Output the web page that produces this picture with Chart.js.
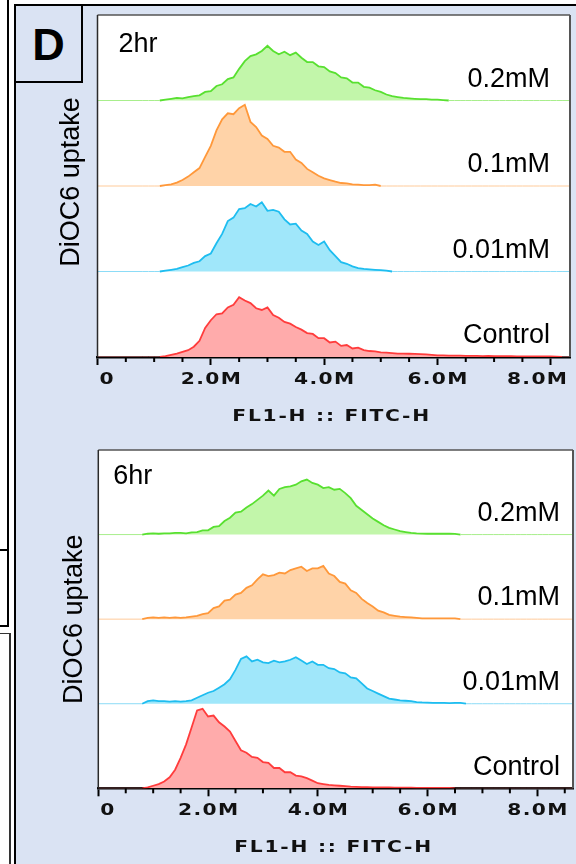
<!DOCTYPE html>
<html>
<head>
<meta charset="utf-8">
<script src="https://cdn.jsdelivr.net/npm/chart.js@4.4.1/dist/chart.umd.min.js"></script>
<style>
  html, body { margin: 0; padding: 0; }
  body { width: 576px; height: 864px; position: relative; overflow: hidden; background: #fff; }
  #panel { position: absolute; left: 14px; top: 3.5px; right: 0; bottom: 0; background: #dae3f3;
           border-left: 2px solid #000; border-top: 2px solid #000; box-sizing: border-box; }
  #tag { position: absolute; left: 14px; top: 3.5px; width: 69px; height: 79px; box-sizing: border-box;
         border: 2px solid #000; font: bold 45px "Liberation Sans", Arial, sans-serif; text-align: center; line-height: 78px; }
  .edge { position: absolute; background: #000; }
  canvas { position: absolute; }
</style>
</head>
<body>
<!-- edge of the neighbouring panel -->
<div class="edge" style="left:6.5px;top:0;width:2px;height:627px"></div>
<div class="edge" style="left:0;top:548.5px;width:8.5px;height:2px"></div>
<div class="edge" style="left:0;top:624.5px;width:8.5px;height:2px"></div>
<div class="edge" style="left:0;top:632.5px;width:10.5px;height:1.5px;background:#333"></div>
<div class="edge" style="left:9px;top:632.5px;width:1.5px;height:232px;background:#333"></div>

<div id="panel"></div>
<div id="tag">D</div>
<canvas id="hist2h" width="556" height="424" style="left:20px;top:8px;width:556px;height:424px"></canvas>
<canvas id="hist6h" width="556" height="424" style="left:20px;top:440px;width:556px;height:424px"></canvas>

<script>
// --- DATA ---
// FL1-H bin centres, in millions
const BINS = [
  0.8, 0.9, 1.0, 1.1, 1.2, 1.3, 1.4, 1.5, 1.6, 1.7,
  1.8, 1.9, 2.0, 2.1, 2.2, 2.3, 2.4, 2.5, 2.6, 2.7,
  2.8, 2.9, 3.0, 3.1, 3.2, 3.3, 3.4, 3.5, 3.6, 3.7,
  3.8, 3.9, 4.0, 4.1, 4.2, 4.3, 4.4, 4.5, 4.6, 4.7,
  4.8, 4.9, 5.0, 5.1, 5.2, 5.3, 5.4, 5.5, 5.6, 5.7,
  5.8, 5.9, 6.0, 6.1, 6.2, 6.3, 6.4, 6.5, 6.6, 6.7,
  6.8, 6.9, 7.0, 7.1, 7.2, 7.3, 7.4, 7.5, 7.6, 7.7,
  7.8, 7.9, 8.0, 8.1, 8.2
];

// rows from bottom to top
const ROW_LABELS = ['Control', '0.01mM', '0.1mM', '0.2mM'];
const ROW_BASES = [0, 100, 200, 300];   // each row is 100 units tall

const X_TICKS = [0, 2, 4, 6, 8];
const X_TICK_LABELS = ['0', '2.0M', '4.0M', '6.0M', '8.0M'];

// counts, as % of row height
const CONTROL_2H = [
  0, 0, 0, 0, 1, 2.5, 4, 6, 8, 12,
  19, 34, 43, 50, 51, 58, 61, 70, 66, 63,
  57, 55, 58, 49, 46, 41, 39, 35, 32, 28,
  27, 22, 22, 17, 18, 13, 14, 10, 11, 8,
  7, 6.5, 5.5, 5, 4.5, 4, 4, 3.8, 3.6, 3.4,
  3, 2.5, 2, 2, 1.6, 1.5, 1.5, 1.3, 1.2, 1.2,
  1.1, 1.2, 1, 1, 0.9, 1, 0.8, 0.8, 0.7, 0.8,
  0.6, 0.7, 0.6, 0.5, 0
];
const LOW_2H = [
  0, 0, 0, 0, 1, 2, 3, 5, 7, 10,
  12, 18, 21, 33, 44, 59, 63, 73, 74, 79,
  76, 81, 71, 72, 70, 61, 55, 56, 48, 44,
  35, 31, 35, 25, 18, 11, 9, 6, 4, 3,
  2.5, 2, 1.5, 1, 0, 0, 0, 0, 0, 0,
  0, 0, 0, 0, 0, 0, 0, 0, 0, 0,
  0, 0, 0, 0, 0, 0, 0, 0, 0, 0,
  0, 0, 0, 0, 0
];
const MID_2H = [
  0, 0, 0, 0, 1, 2, 4, 7, 11, 16,
  21, 34, 47, 65, 78, 85, 84, 91, 95, 75,
  69, 59, 55, 47, 45, 40, 40, 31, 27, 20,
  16, 12, 9, 7, 5, 3.5, 3, 2, 1.5, 1,
  1, 1.5, 0, 0, 0, 0, 0, 0, 0, 0,
  0, 0, 0, 0, 0, 0, 0, 0, 0, 0,
  0, 0, 0, 0, 0, 0, 0, 0, 0, 0,
  0, 0, 0, 0, 0
];
const HIGH_2H = [
  0, 0, 0, 0, 1, 2, 3, 2.5, 4, 5,
  6, 10, 11, 17, 19, 25, 27, 37, 46, 52,
  54, 58, 64, 58, 54, 57, 53, 56, 50, 45,
  45, 40, 39, 34, 32, 27, 26, 21, 21, 16,
  15, 12, 10, 7, 5, 4, 3, 2.5, 2, 1.5,
  1.5, 1, 1, 0.5, 0, 0, 0, 0, 0, 0,
  0, 0, 0, 0, 0, 0, 0, 0, 0, 0,
  0, 0, 0, 0, 0
];

const CONTROL_6H = [
  0, 1, 3, 5, 8, 13, 22, 36, 52, 72,
  92, 94, 85, 86, 78, 73, 67, 56, 45, 42,
  37, 36, 31, 30, 24, 24, 19, 19, 15, 14,
  12, 9, 6, 5, 4, 3.5, 3, 2.5, 2, 1.8,
  1.5, 1.5, 1.2, 1, 1, 1, 0.8, 0.8, 0.8, 0.7,
  0.6, 0.6, 0.5, 0.6, 0.5, 0.5, 0.5, 0, 0, 0,
  0, 0, 0, 0, 0, 0, 0, 0, 0, 0,
  0, 0, 0, 0, 0
];
const LOW_6H = [
  0, 3, 4, 3, 3, 2.5, 3, 2.5, 3, 4,
  7, 10, 13, 15, 19, 23, 29, 40, 53, 56,
  50, 52, 49, 48, 51, 49, 50, 52, 55, 51,
  47, 50, 46, 46, 42, 41, 37, 36, 31, 30,
  24, 18, 15, 12, 9, 6, 5, 4, 3.5, 3,
  2, 1.5, 1.2, 1, 1, 1, 0.8, 1, 1, 0,
  0, 0, 0, 0, 0, 0, 0, 0, 0, 0,
  0, 0, 0, 0, 0
];
const MID_6H = [
  0, 1.5, 2, 1.5, 2, 1.5, 2, 1.5, 2, 3,
  4, 6, 7, 13, 15, 22, 23, 29, 31, 37,
  40, 47, 53, 51, 52, 55, 54, 58, 60, 62,
  57, 60, 60, 63, 54, 51, 44, 42, 34, 31,
  24, 19, 15, 10, 8, 5, 4, 3, 2.5, 2,
  1.5, 1, 1, 1, 0.8, 1, 0.8, 0.8, 0, 0,
  0, 0, 0, 0, 0, 0, 0, 0, 0, 0,
  0, 0, 0, 0, 0
];
const HIGH_6H = [
  0, 1, 1.5, 1, 1.5, 1.5, 2, 2, 1.5, 2.5,
  3, 5, 5, 9, 10, 16, 20, 26, 27, 32,
  36, 41, 46, 52, 46, 54, 56, 57, 59, 63,
  65, 61, 59, 55, 56, 53, 54, 49, 43, 34,
  29, 24, 19, 15, 11, 8, 6, 4, 3, 2,
  1.5, 1.2, 1, 1.2, 1, 1, 1, 0.8, 0, 0,
  0, 0, 0, 0, 0, 0, 0, 0, 0, 0,
  0, 0, 0, 0, 0
];

// red, blue, orange, green (bottom to top)
const LINE_COLORS = ['#ff3c3c', '#1ebdf0', '#ff983a', '#58e030'];
const FILL_COLORS = ['#ffabab', '#a0e7fa', '#ffd3a8', '#c2f6aa'];
const BASE_COLORS = ['#ff9c9c', '#8cdcf7', '#ffcb9a', '#a8ee8c'];

const FONT = '"Liberation Sans", Arial, sans-serif';
const AXIS_FONT = 'bold 15px "DejaVu Sans", sans-serif';
const AXIS_STRETCH = 1.35;   // axis lettering is set wide

// --- DRAWING ---
// width of wide-set axis text, without the trailing gap
function wideWidth(ctx, text, spacing) {
    ctx.letterSpacing = spacing + 'px';
    const w = (ctx.measureText(text).width - spacing) * AXIS_STRETCH;
    ctx.letterSpacing = '0px';
    return w;
}

function wideText(ctx, text, left, y, spacing) {
    ctx.save();
    ctx.letterSpacing = spacing + 'px';
    ctx.translate(left, y);
    ctx.scale(AXIS_STRETCH, 1);
    ctx.fillText(text, 0, 0);
    ctx.restore();
}

const panelText = {
    id: 'panelText',
    beforeDraw(chart) {
        const { ctx, chartArea: a } = chart;
        ctx.save();
        ctx.fillStyle = '#fff';
        ctx.fillRect(a.left, a.top, a.width, a.height);
        ctx.restore();
    },
    afterDraw(chart, args, opts) {
        const { ctx, chartArea: a } = chart;
        const xs = chart.scales.x, ys = chart.scales.y;
        ctx.save();

        // plot frame (bottom edge is the x axis)
        ctx.lineWidth = 1.5;
        ctx.strokeStyle = '#555';
        ctx.beginPath();
        ctx.moveTo(a.left, a.top); ctx.lineTo(a.right, a.top);
        ctx.stroke();
        ctx.lineWidth = 2;
        ctx.beginPath();
        ctx.moveTo(a.right, a.top); ctx.lineTo(a.right, a.bottom);
        ctx.stroke();
        ctx.strokeStyle = '#2a2a2a';
        ctx.lineWidth = 1.5;
        ctx.beginPath();
        ctx.moveTo(a.left, a.top); ctx.lineTo(a.left, a.bottom);
        ctx.stroke();

        // minor ticks every 0.5M
        ctx.strokeStyle = '#000';
        ctx.lineWidth = 2;
        for (let v = 0.5; v < xs.max; v += 0.5) {
            if (v % 2 === 0) continue;
            const px = xs.getPixelForValue(v);
            ctx.beginPath();
            ctx.moveTo(px, a.bottom);
            ctx.lineTo(px, a.bottom + 5);
            ctx.stroke();
        }

        // tick labels, kept inside the plot width
        ctx.fillStyle = '#111';
        ctx.font = AXIS_FONT;
        ctx.textBaseline = 'middle';
        ctx.textAlign = 'left';
        xs.ticks.forEach((t, i) => {
            const label = X_TICK_LABELS[i];
            const w = wideWidth(ctx, label, 1);
            let left = xs.getPixelForValue(t.value) - w / 2;
            left = Math.max(left, a.left + 2);
            left = Math.min(left, a.right - 3 - w);
            wideText(ctx, label, left, a.bottom + 23, 1);
        });

        // x axis title
        const title = 'FL1-H :: FITC-H';
        const tw = wideWidth(ctx, title, 1.3);
        wideText(ctx, title, (a.left + a.right) / 2 - 3 - tw / 2, a.bottom + 60, 1.3);

        // y axis title
        ctx.fillStyle = '#000';
        ctx.font = '27px ' + FONT;
        ctx.save();
        ctx.translate(a.left - opts.yTitleGap, (a.top + a.bottom) / 2 + opts.yTitleShift);
        ctx.rotate(-Math.PI / 2);
        ctx.textAlign = 'center';
        ctx.textBaseline = 'alphabetic';
        ctx.fillText('DiOC6 uptake', 0, 0);
        ctx.restore();

        // row labels
        ctx.textAlign = 'right';
        ctx.textBaseline = 'middle';
        ROW_LABELS.forEach((txt, i) => {
            ctx.fillText(txt, a.right - opts.labelInset, ys.getPixelForValue(ROW_BASES[i] + 25));
        });

        // time point
        ctx.textAlign = 'left';
        ctx.fillText(opts.time, a.left + opts.timeDx, a.top + opts.timeDy);
        ctx.restore();
    }
};

function drawPanel(canvasId, series, cfg) {
    const datasets = series.map((vals, i) => {
        const base = ROW_BASES[i];
        const pts = [{ x: 0, y: base }]
            .concat(BINS.map((b, j) => ({ x: b, y: base + vals[j] })))
            .concat([{ x: cfg.xMax, y: base }]);
        const flat = c => c.p0.parsed.y === base && c.p1.parsed.y === base;
        return {
            data: pts,
            borderColor: LINE_COLORS[i],
            backgroundColor: FILL_COLORS[i],
            borderWidth: 1.8,
            pointRadius: 0,
            tension: 0,
            fill: { value: base },
            segment: {
                borderColor: c => flat(c) ? BASE_COLORS[i] : undefined,
                borderWidth: c => flat(c) ? 1 : undefined
            }
        };
    });

    return new Chart(document.getElementById(canvasId), {
        type: 'line',
        data: { datasets },
        options: {
            responsive: false,
            animation: false,
            events: [],
            layout: { padding: cfg.padding },
            scales: {
                x: {
                    type: 'linear',
                    min: 0,
                    max: cfg.xMax,
                    afterBuildTicks: s => { s.ticks = X_TICKS.map(v => ({ value: v })); },
                    afterFit: s => { s.height = cfg.axisHeight; },
                    ticks: { display: false },
                    grid: { drawOnChartArea: false, tickLength: 8, tickWidth: 2, tickColor: '#000' },
                    border: { color: '#000', width: 2.5 }
                },
                y: { display: false, min: 0, max: 400 }
            },
            plugins: {
                legend: { display: false },
                tooltip: { enabled: false },
                panelText: cfg.text
            }
        },
        plugins: [panelText]
    });
}

drawPanel('hist2h', [CONTROL_2H, LOW_2H, MID_2H, HIGH_2H], {
    xMax: 8.34,
    axisHeight: 75,
    padding: { left: 77.5, top: 7, right: 6, bottom: 0 },
    text: { time: '2hr', timeDx: 21, timeDy: 30, labelInset: 20, yTitleGap: 19, yTitleShift: -4 }
});

drawPanel('hist6h', [CONTROL_6H, LOW_6H, MID_6H, HIGH_6H], {
    xMax: 8.65,
    axisHeight: 75.7,
    padding: { left: 78.3, top: 10, right: 3, bottom: 0 },
    text: { time: '6hr', timeDx: 15, timeDy: 27, labelInset: 13, yTitleGap: 16, yTitleShift: 0 }
});
</script>
</body>
</html>
